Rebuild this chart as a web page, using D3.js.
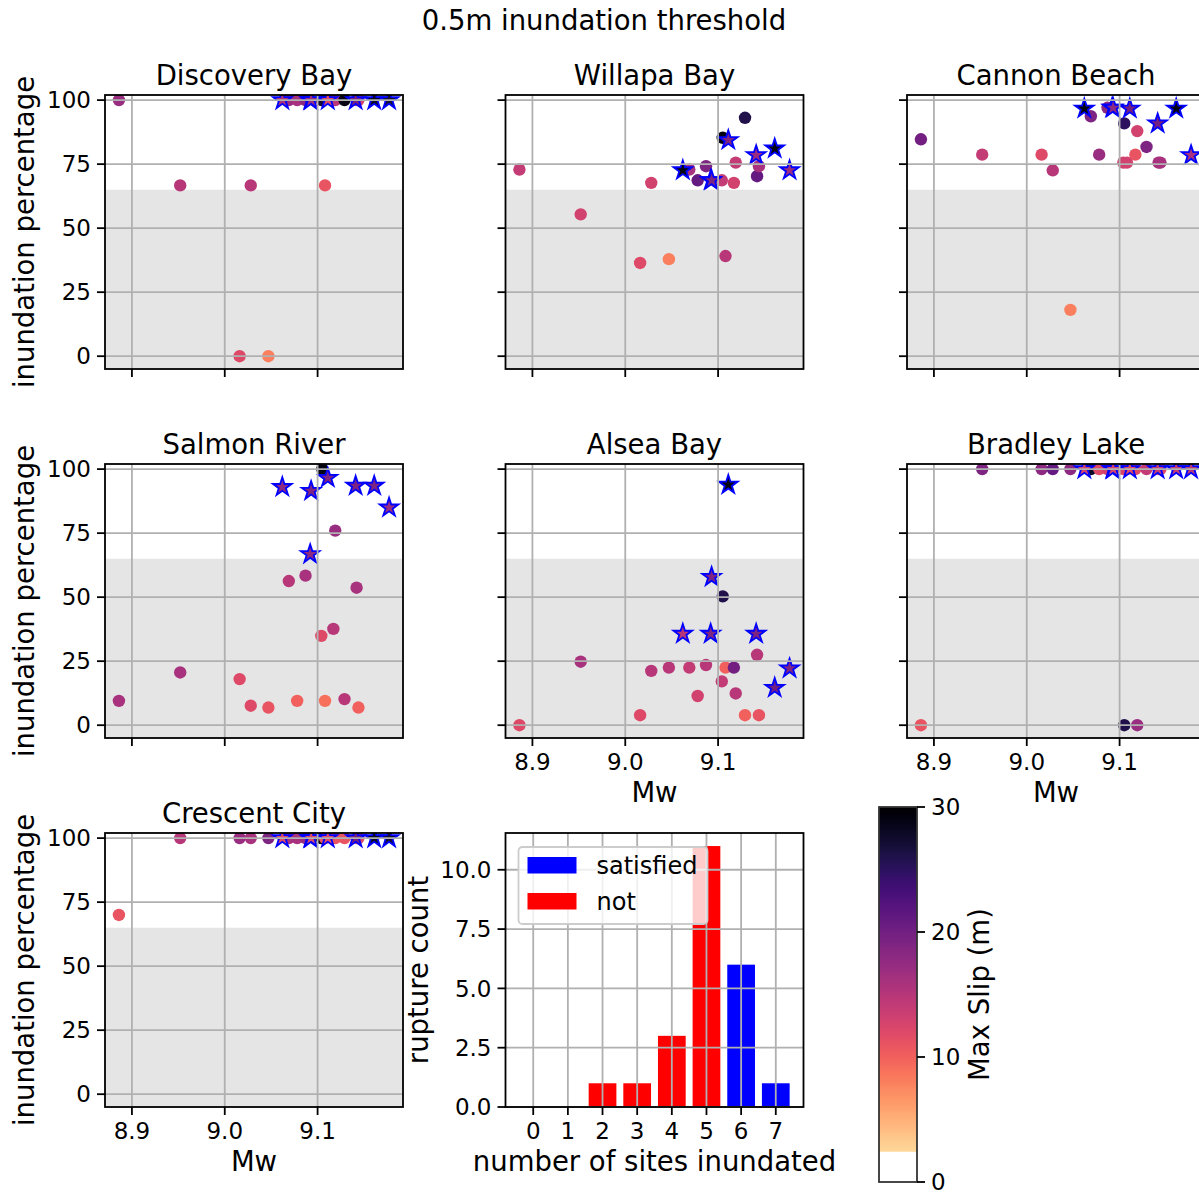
<!doctype html>
<html>
<head>
<meta charset='utf-8'>
<title>0.5m inundation threshold</title>
<script src='https://cdn.jsdelivr.net/npm/d3@7'></script>
<style>
  html, body { margin:0; padding:0; background:white; }
  svg text { font-family:'DejaVu Sans', sans-serif; fill:#000; }
</style>
</head>
<body>
<div id='chart'></div>
<script>
// rupture magnitudes (shared by every site) and whether the rupture satisfied the site count
var ruptureMw = [8.886, 8.952, 9.016, 9.028, 9.047, 9.062, 9.069, 9.078, 9.087, 9.092, 9.093, 9.104,
                 9.105, 9.108, 9.111, 9.117, 9.119, 9.129, 9.141, 9.142, 9.144, 9.161, 9.177]
var satisfied = [0,0,0,0,0,1,0,0,0,1,1,0,0,0,1,0,0,0,1,0,0,1,1]

var siteNames = ['Discovery Bay','Willapa Bay','Cannon Beach','Salmon River','Alsea Bay','Bradley Lake','Crescent City']

// inundation percentage per rupture, per site
var pctDiscovery = [100,66.7,0,66.7,0,100,100,100,100,100,100,100,100,66.7,100,100,100,100,100,100,100,100,100]
var pctWillapa   = [72.9,55.4,36.4,67.7,37.9,72.6,72.9,68.7,74.2,68.7,68.7,68.7,85.3,39.1,84.4,67.7,75.6,93.1,78.5,70.3,74.2,81.1,72.6]
var pctCannon    = [84.7,78.7,78.7,72.6,18.1,96.7,93.7,78.7,97,97,97,75.6,90.9,75.6,96.7,78.7,87.9,81.7,90.9,75.6,75.6,96.7,78.5]
var pctSalmon    = [9.5,20.6,18,7.6,6.9,93,56.3,9.5,58.4,66.8,91.5,34.9,100,9.5,96.6,37.6,76,10.2,93.5,53.7,6.9,93.5,85]
var pctAlsea     = [0,24.8,3.9,21.2,22.5,35.7,22.5,11.4,23.5,35.7,57.9,17.1,50.3,22.5,93.9,22.5,12.4,3.9,35.7,27.5,3.9,14.6,22.2]
var pctBradley   = [0,100,100,100,100,100,100,100,100,100,100,100,0,100,100,100,0,100,100,100,100,100,100]
var pctCrescent  = [70,100,100,100,100,100,100,100,100,100,100,100,100,100,100,100,100,100,100,100,100,100,100]

// max slip (m) per rupture, per site
var slipDiscovery = [17,15,12,15,8,16,17,16,18,17,17,14,27,11,12,15,15,29,20,16,13,28,27]
var slipWillapa   = [14,13,12,13,8,29,16,21,19,19,19,14,29,15,19,13,14,26,17,21,16,29,17]
var slipCannon    = [20,14,12,15,8,29,19,17,18,18,18,13,25,13,20,11,13,19,20,16,16,29,16]
var slipSalmon    = [16,16,12,12,11,18,15,10,16,18,19,12,29,9,19,15,17,15,19,16,10,19,17]
var slipAlsea     = [12,16,12,15,15,15,14,13,15,19,19,14,26,10,29,20,15,10,19,15,11,20,19]
var slipBradley   = [11,19,18,21,18,13,28,12,13,12,13,12,26,13,12,12,17,14,14,13,12,14,15]
var slipCrescent  = [11,15,17,16,19,12,16,16,17,12,12,28,29,11,12,11,11,11,20,12,12,28,27]

// histogram
var sitesInundated = [0,1,2,3,4,5,6,7]
var ruptureCounts  = [0,0,1,1,3,11,6,1]
var countSatisfied = [0,0,0,0,0,0,1,1]

var yTicks = [0,25,50,75,100]
var xTicks = [8.9,9.0,9.1]
var countTicks = [0,2.5,5,7.5,10]
var slipTicks = [0,10,20,30]

var pctBySite  = [pctDiscovery,pctWillapa,pctCannon,pctSalmon,pctAlsea,pctBradley,pctCrescent]
var slipBySite = [slipDiscovery,slipWillapa,slipCannon,slipSalmon,slipAlsea,slipBradley,slipCrescent]

var W = 1199, H = 1192
var colX = [105, 505.5, 907], rowY = [95, 464, 833]
var axW = 298, axH = 274
var FS = 23, LS = 27.5, TS = 27.5
var gridColor = '#b0b0b0', lw = 1.8

// magma_r, white under ~2.4 m
function slipColor(v){
  return v < 2.4 ? '#ffffff' : d3.interpolateMagma(1 - v/30)
}

function starPath(R){
  var r = R*0.381966, p = []
  for(var k=0;k<10;k++){
    var a = -Math.PI/2 + k*Math.PI/5, rr = k%2 ? r : R
    p.push([rr*Math.cos(a), rr*Math.sin(a)])
  }
  return 'M' + p.map(function(q){ return q[0].toFixed(2)+','+q[1].toFixed(2) }).join('L') + 'Z'
}

var svg = d3.select('#chart').append('svg')
  .attr('width',W).attr('height',H)
  .attr('viewBox','0 0 '+W+' '+H)

svg.append('rect').attr('width',W).attr('height',H).attr('fill','white')

svg.append('text').attr('x',604).attr('y',30).attr('text-anchor','middle')
  .style('font-size',TS+'px').text('0.5m inundation threshold')

var x = d3.scaleLinear().domain([8.871,9.192]).range([0,axW])
var y = d3.scaleLinear().domain([-5,102]).range([axH,0])

var defs = svg.append('defs')
defs.append('clipPath').attr('id','axclip').append('rect')
  .attr('width',axW).attr('height',axH)

/*
 * one scatter panel per site
 */
siteNames.forEach(function(name,i){
  var row = Math.floor(i/3), col = i%3
  var g = svg.append('g').attr('transform','translate('+colX[col]+','+rowY[row]+')')
  var showX = (i >= 4), showY = (col === 0)

  var plot = g.append('g').attr('clip-path','url(#axclip)')
  // shaded region below 65 %
  plot.append('rect').attr('x',0).attr('width',axW)
    .attr('y',y(65)).attr('height',axH - y(65))
    .attr('fill','#d3d3d3').attr('fill-opacity',0.6)

  var pts = ruptureMw.map(function(m,j){
    return {mw:m, pct:pctBySite[i][j], slip:slipBySite[i][j], sat:satisfied[j]}
  })
  plot.selectAll('circle.pt').data(pts.filter(function(d){ return !d.sat })).enter()
    .append('circle').attr('class','pt')
    .attr('cx',function(d){ return x(d.mw) }).attr('cy',function(d){ return y(d.pct) })
    .attr('r',6.2).attr('fill',function(d){ return slipColor(d.slip) })
  plot.selectAll('path.star').data(pts.filter(function(d){ return d.sat })).enter()
    .append('path').attr('class','star')
    .attr('transform',function(d){ return 'translate('+x(d.mw)+','+y(d.pct)+')' })
    .attr('d',starPath(9.8))
    .attr('fill',function(d){ return slipColor(d.slip) })
    .attr('stroke','#0000ff').attr('stroke-width',1.8).attr('stroke-linejoin','miter')

  // grid above the marks, as matplotlib draws it
  plot.selectAll('line.gx').data(xTicks).enter().append('line')
    .attr('x1',x).attr('x2',x).attr('y1',0).attr('y2',axH)
    .attr('stroke',gridColor).attr('stroke-width',lw)
  plot.selectAll('line.gy').data(yTicks).enter().append('line')
    .attr('y1',y).attr('y2',y).attr('x1',0).attr('x2',axW)
    .attr('stroke',gridColor).attr('stroke-width',lw)

  // ticks
  g.selectAll('line.tx').data(xTicks).enter().append('line')
    .attr('x1',x).attr('x2',x).attr('y1',axH).attr('y2',axH+8)
    .attr('stroke','#000').attr('stroke-width',lw)
  g.selectAll('line.ty').data(yTicks).enter().append('line')
    .attr('y1',y).attr('y2',y).attr('x1',-8).attr('x2',0)
    .attr('stroke','#000').attr('stroke-width',lw)

  if(showX){
    g.selectAll('text.tx').data(xTicks).enter().append('text')
      .attr('x',x).attr('y',axH+32).attr('text-anchor','middle')
      .style('font-size',FS+'px').text(d3.format('.1f'))
    g.append('text').attr('x',axW/2).attr('y',axH+64).attr('text-anchor','middle')
      .style('font-size',LS+'px').text('Mw')
  }
  if(showY){
    g.selectAll('text.ty').data(yTicks).enter().append('text')
      .attr('x',-14).attr('y',y).attr('dy','0.36em').attr('text-anchor','end')
      .style('font-size',FS+'px').text(function(d){ return d })
    g.append('text').attr('transform','translate('+(34-colX[0])+','+axH/2+') rotate(-90)')
      .attr('text-anchor','middle').style('font-size',LS+'px').text('inundation percentage')
  }

  g.append('rect').attr('width',axW).attr('height',axH)
    .attr('fill','none').attr('stroke','#000').attr('stroke-width',lw)

  g.append('text').attr('x',axW/2).attr('y',-10).attr('text-anchor','middle')
    .style('font-size',TS+'px').text(name)
})

/*
 * histogram of the number of sites inundated
 */
;(function(){
  var g = svg.append('g').attr('transform','translate('+colX[1]+','+rowY[2]+')')
  var bx = d3.scaleLinear().domain([-0.8,7.8]).range([0,axW])
  var by = d3.scaleLinear().domain([0,11.55]).range([axH,0])
  var bars = sitesInundated.map(function(s,i){
    return {s:s, n:ruptureCounts[i], ok:countSatisfied[i]}
  })
  g.selectAll('rect.bar').data(bars).enter().append('rect')
    .attr('x',function(d){ return bx(d.s-0.4) })
    .attr('width',bx(0.4)-bx(-0.4))
    .attr('y',function(d){ return by(d.n) })
    .attr('height',function(d){ return axH - by(d.n) })
    .attr('fill',function(d){ return d.ok ? '#0000ff' : '#ff0000' })

  g.selectAll('line.gx').data(sitesInundated).enter().append('line')
    .attr('x1',bx).attr('x2',bx).attr('y1',0).attr('y2',axH)
    .attr('stroke',gridColor).attr('stroke-width',lw)
  g.selectAll('line.gy').data(countTicks).enter().append('line')
    .attr('y1',by).attr('y2',by).attr('x1',0).attr('x2',axW)
    .attr('stroke',gridColor).attr('stroke-width',lw)

  g.selectAll('line.tx').data(sitesInundated).enter().append('line')
    .attr('x1',bx).attr('x2',bx).attr('y1',axH).attr('y2',axH+8)
    .attr('stroke','#000').attr('stroke-width',lw)
  g.selectAll('line.ty').data(countTicks).enter().append('line')
    .attr('y1',by).attr('y2',by).attr('x1',-8).attr('x2',0)
    .attr('stroke','#000').attr('stroke-width',lw)
  g.selectAll('text.tx').data(sitesInundated).enter().append('text')
    .attr('x',bx).attr('y',axH+32).attr('text-anchor','middle')
    .style('font-size',FS+'px').text(function(d){ return d })
  g.selectAll('text.ty').data(countTicks).enter().append('text')
    .attr('x',-14).attr('y',by).attr('dy','0.36em').attr('text-anchor','end')
    .style('font-size',FS+'px').text(d3.format('.1f'))

  g.append('text').attr('x',axW/2).attr('y',axH+64).attr('text-anchor','middle')
    .style('font-size',LS+'px').text('number of sites inundated')
  g.append('text').attr('transform','translate('+(428-colX[1])+','+axH/2+') rotate(-90)')
    .attr('text-anchor','middle').style('font-size',LS+'px').text('rupture count')

  // legend
  var lg = g.append('g').attr('transform','translate(13,14)')
  lg.append('rect').attr('width',189).attr('height',77).attr('rx',4)
    .attr('fill','white').attr('fill-opacity',0.8)
    .attr('stroke','#cccccc').attr('stroke-width',1.8)
  var items = [{t:'satisfied',c:'#0000ff'},{t:'not',c:'#ff0000'}]
  items.forEach(function(it,k){
    lg.append('rect').attr('x',9).attr('y',10+k*36).attr('width',49).attr('height',16.5).attr('fill',it.c)
    lg.append('text').attr('x',78).attr('y',18+k*36).attr('dy','0.36em')
      .style('font-size',(FS+1)+'px').text(it.t)
  })

  g.append('rect').attr('width',axW).attr('height',axH)
    .attr('fill','none').attr('stroke','#000').attr('stroke-width',lw)
})()

/*
 * colorbar
 */
;(function(){
  var cx = 879, cy = 807, cw = 38, ch = 375
  var cs = d3.scaleLinear().domain([0,30]).range([cy+ch,cy])
  var grad = defs.append('linearGradient').attr('id','slipgrad')
    .attr('x1',0).attr('x2',0).attr('y1',1).attr('y2',0)
  grad.selectAll('stop').data(d3.range(0,30.01,0.25)).enter().append('stop')
    .attr('offset',function(d){ return d/30 })
    .attr('stop-color',function(d){ return slipColor(d) })
  svg.append('rect').attr('x',cx).attr('y',cy).attr('width',cw).attr('height',ch)
    .attr('fill','url(#slipgrad)')
  // hard edge between the white "under" part and the colormap
  svg.append('rect').attr('x',cx).attr('y',cs(2.4)).attr('width',cw).attr('height',cs(0)-cs(2.4))
    .attr('fill','#ffffff')
  svg.append('rect').attr('x',cx).attr('y',cy).attr('width',cw).attr('height',ch)
    .attr('fill','none').attr('stroke','#333').attr('stroke-width',lw)
  svg.selectAll('line.ct').data(slipTicks).enter().append('line')
    .attr('x1',cx+cw).attr('x2',cx+cw+8).attr('y1',cs).attr('y2',cs)
    .attr('stroke','#000').attr('stroke-width',lw)
  svg.selectAll('text.ct').data(slipTicks).enter().append('text')
    .attr('x',cx+cw+14).attr('y',cs).attr('dy','0.36em')
    .style('font-size',FS+'px').text(function(d){ return d })
  svg.append('text').attr('transform','translate(989,'+(cy+ch/2)+') rotate(-90)')
    .attr('text-anchor','middle').style('font-size',LS+'px').text('Max Slip (m)')
})()
</script>
</body>
</html>
